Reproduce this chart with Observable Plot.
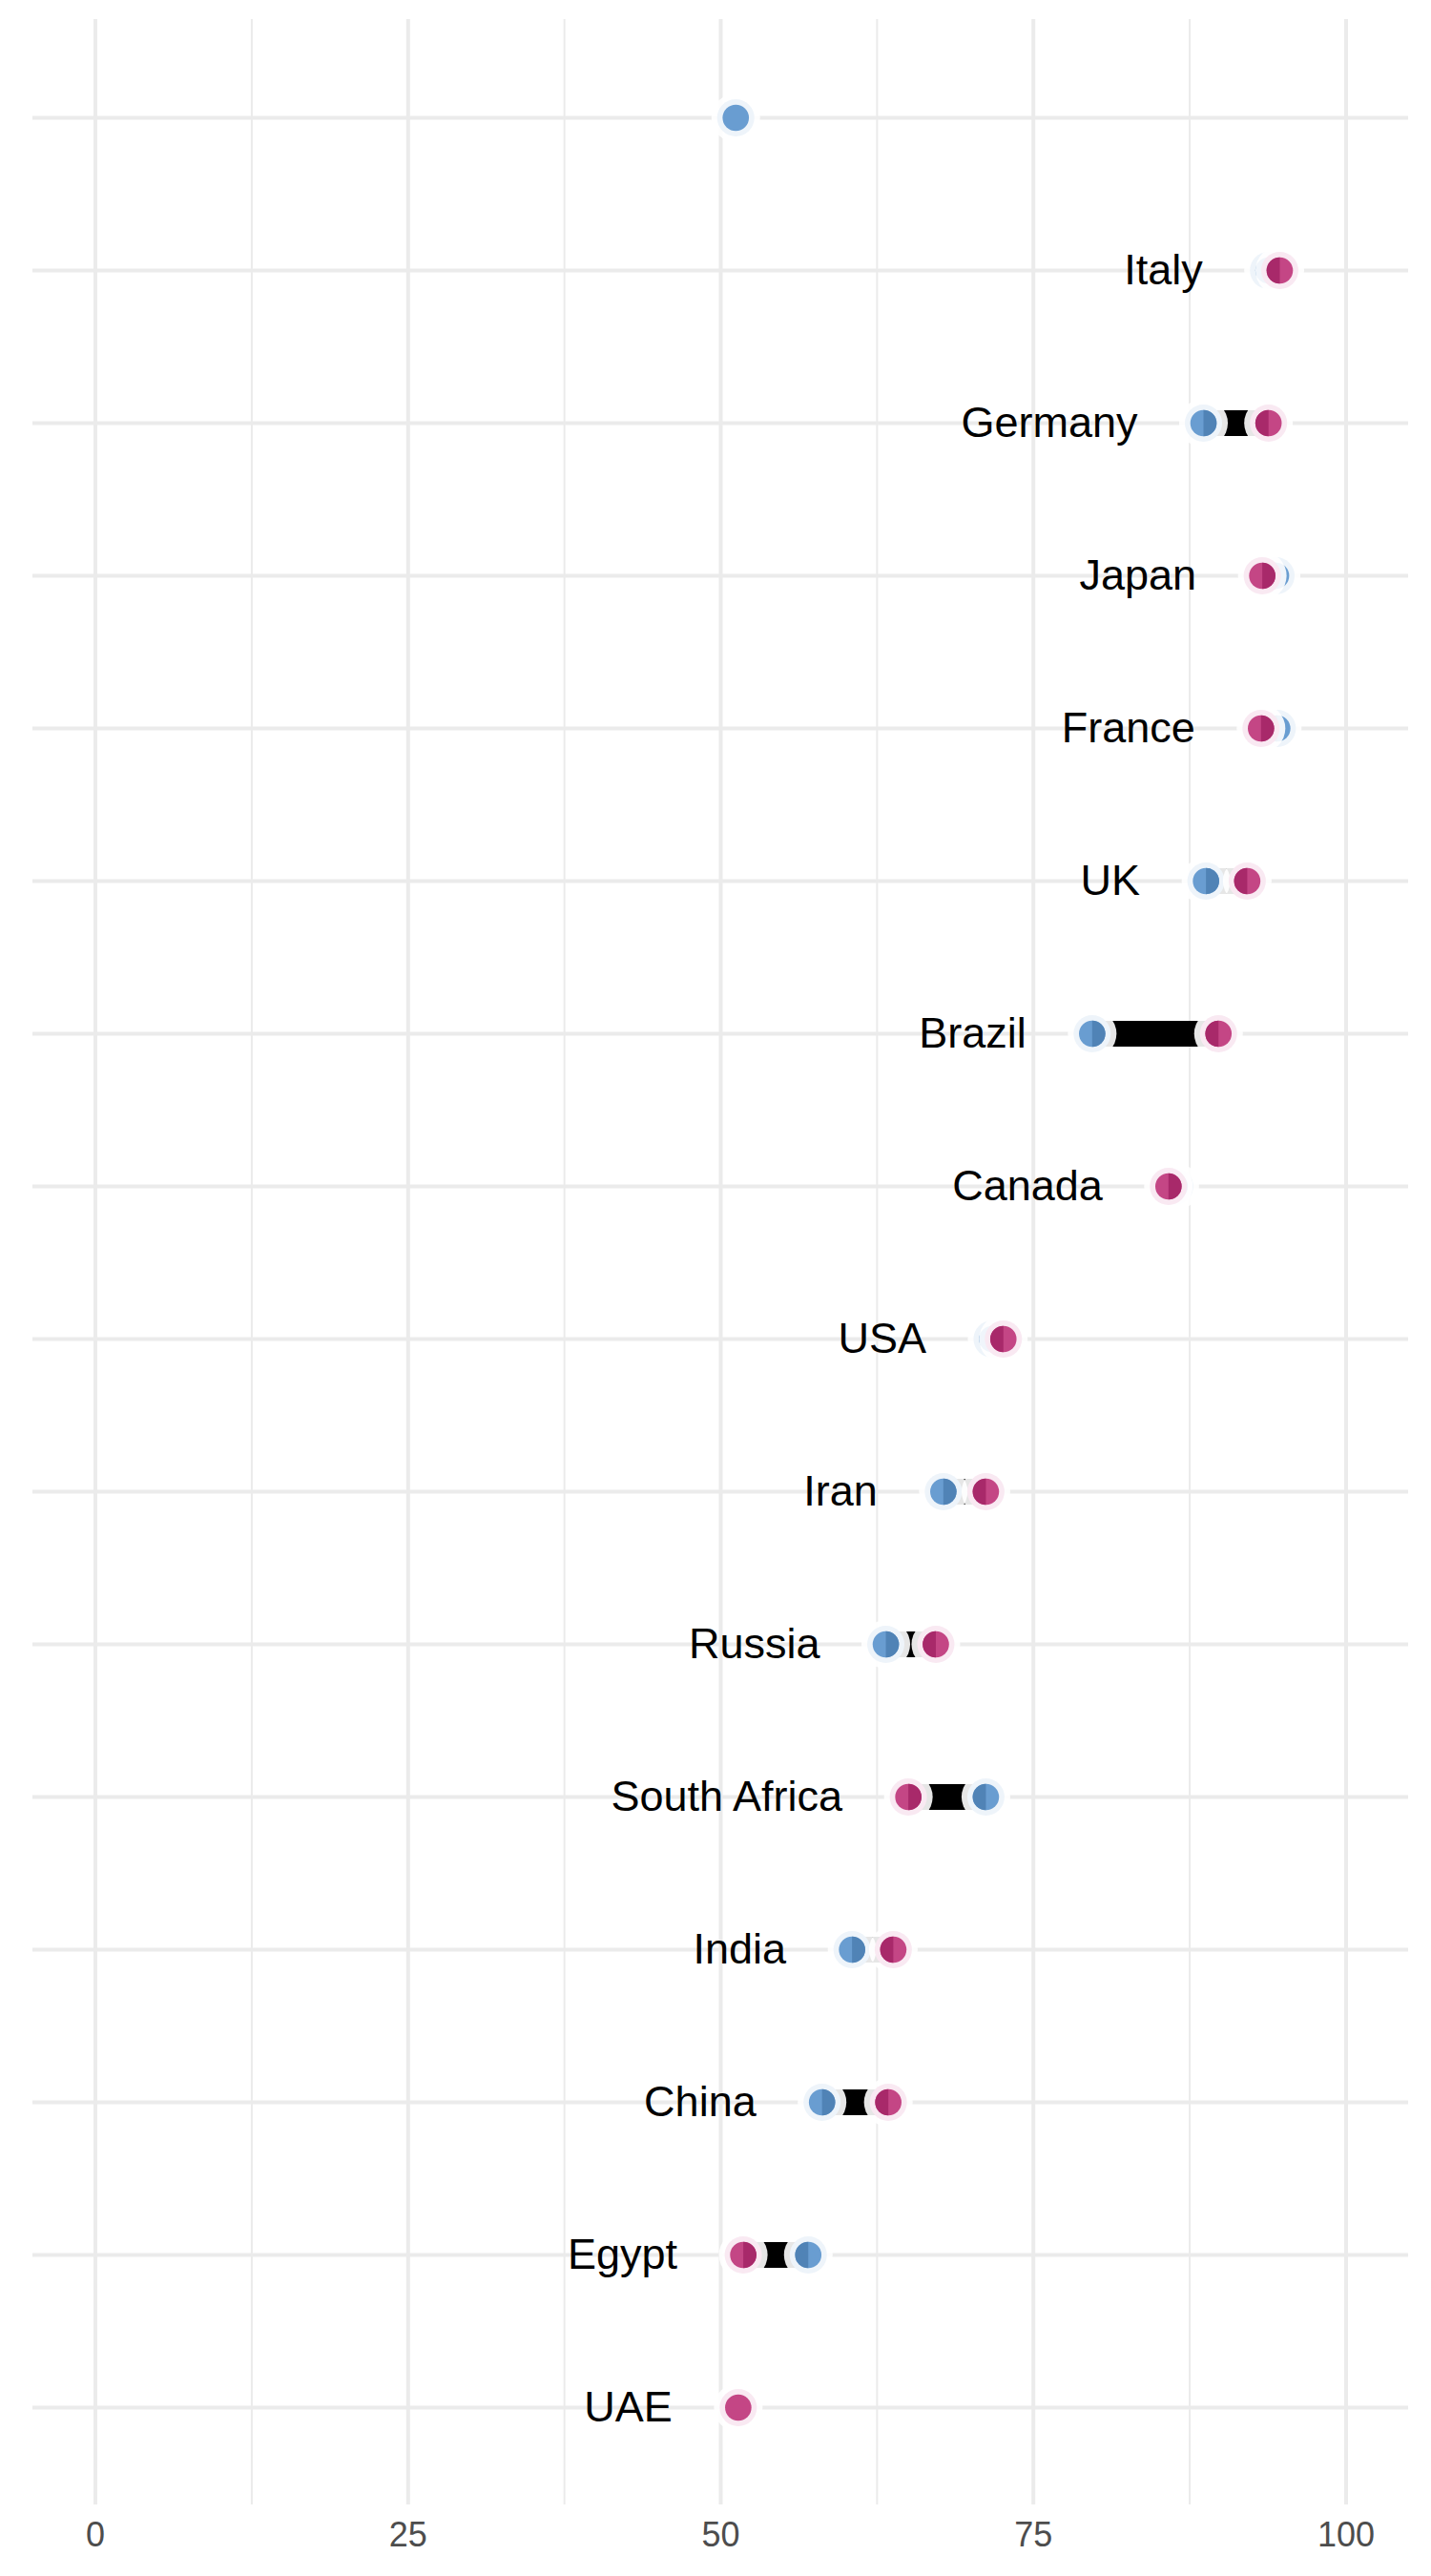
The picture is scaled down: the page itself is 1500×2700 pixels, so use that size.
<!DOCTYPE html>
<html>
<head>
<meta charset="utf-8">
<script src="https://cdn.jsdelivr.net/npm/d3@7"></script>
<script src="https://cdn.jsdelivr.net/npm/@observablehq/plot@0.6"></script>
<style>
  html, body { margin: 0; padding: 0; background: #ffffff; }
  #chart svg { display: block; }
</style>
</head>
<body>
<div id="chart"></div>
<script>
// ---- Data ----
const countries = ["", "Italy", "Germany", "Japan", "France", "UK", "Brazil", "Canada", "USA", "Iran", "Russia", "South Africa", "India", "China", "Egypt", "UAE"];
const blueValues    = [51.2, 93.8, 88.6, 94.4, 94.5, 88.8, 79.7, 86.3, 71.7, 67.8, 63.2, 71.2, 60.5, 58.1, 57.0, null];
const magentaValues = [null, 94.7, 93.8, 93.3, 93.2, 92.1, 89.8, 85.8, 72.6, 71.2, 67.2, 65.0, 63.8, 63.4, 51.8, 51.4];
const majorTicks = [0, 25, 50, 75, 100];
const minorTicks = [12.5, 37.5, 62.5, 87.5];

const rows = countries.map((c, i) => ({country: c, blue: blueValues[i], magenta: magentaValues[i]}));
const pairs = rows.filter(d => d.blue != null && d.magenta != null);
const minVal = d => Math.min(...[d.blue, d.magenta].filter(v => v != null));

// ---- Styles ----
const BLUE = "#699dd1", BLUE_DARK = "#5083b6", BLUE_HALO = "#eef4fa";
const MAG = "#c44685", MAG_DARK = "#a8296a", MAG_HALO = "#f9e9f2";
const R_DOT = 13.8, R_HALO = 19.5, R_WHITE = 25.5;

const halfRight = {draw(ctx, size) { const r = Math.sqrt(size / Math.PI); ctx.moveTo(0, -r); ctx.arc(0, 0, r, -Math.PI / 2, Math.PI / 2); ctx.closePath(); }};
const halfLeft  = {draw(ctx, size) { const r = Math.sqrt(size / Math.PI); ctx.moveTo(0, r); ctx.arc(0, 0, r, Math.PI / 2, 3 * Math.PI / 2); ctx.closePath(); }};

function seriesMarks(key, other, light, dark, halo) {
  const has = rows.filter(d => d[key] != null);
  return [
    Plot.dot(has, {x: key, y: "country", r: R_WHITE, fill: "white", fillOpacity: 0.9}),
    Plot.dot(has, {x: key, y: "country", r: R_HALO, fill: halo}),
    Plot.dot(has, {x: key, y: "country", r: R_DOT, fill: light}),
    Plot.dot(pairs.filter(d => d[key] < d[other]), {x: key, y: "country", r: R_DOT, fill: dark, symbol: halfRight}),
    Plot.dot(pairs.filter(d => d[key] >= d[other]), {x: key, y: "country", r: R_DOT, fill: dark, symbol: halfLeft})
  ];
}

const chart = Plot.plot({
  width: 1500,
  height: 2700,
  marginTop: 20,
  marginBottom: 75,
  marginLeft: 34,
  marginRight: 24,
  style: {fontFamily: "'Liberation Sans', Arial, sans-serif", background: "#ffffff"},
  x: {domain: [-5, 105], axis: null},
  y: {type: "point", domain: countries, padding: 0.6, axis: null},
  marks: [
    Plot.gridX(minorTicks, {stroke: "#ebebeb", strokeOpacity: 1, strokeWidth: 2}),
    Plot.gridX(majorTicks, {stroke: "#ebebeb", strokeOpacity: 1, strokeWidth: 4}),
    Plot.gridY(countries, {stroke: "#ebebeb", strokeOpacity: 1, strokeWidth: 4}),
    Plot.axisX(majorTicks, {tickSize: 0, tickPadding: 18, fontSize: 36, color: "#4d4d4d", label: null, tickFormat: d => String(d)}),
    Plot.text(rows, {x: minVal, y: "country", text: "country", textAnchor: "end", dx: -69, fontSize: 45, fill: "black"}),
    Plot.link(pairs, {x1: "blue", x2: "magenta", y1: "country", y2: "country", stroke: "black", strokeWidth: 27, strokeLinecap: "butt"}),
    ...seriesMarks("blue", "magenta", BLUE, BLUE_DARK, BLUE_HALO),
    ...seriesMarks("magenta", "blue", MAG, MAG_DARK, MAG_HALO)
  ]
});
document.getElementById("chart").appendChild(chart);
</script>
</body>
</html>
